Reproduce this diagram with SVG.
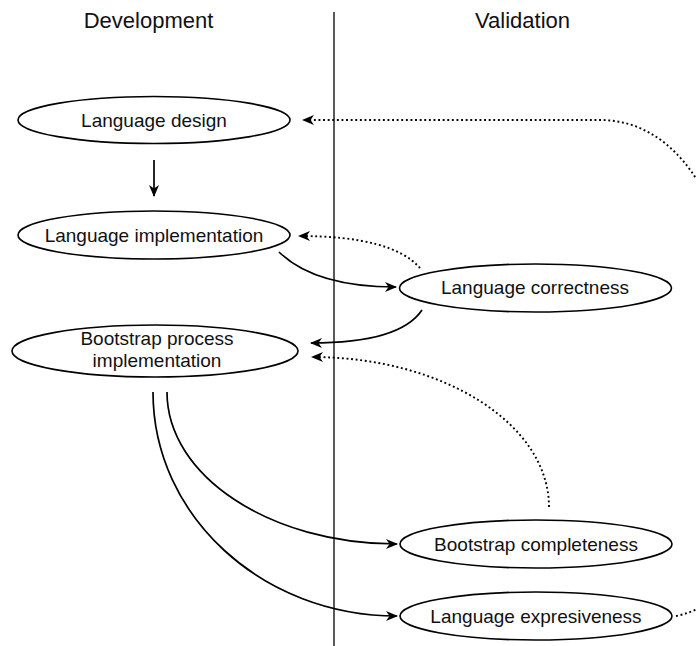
<svg xmlns="http://www.w3.org/2000/svg" width="696" height="646" viewBox="0 0 696 646">
<style>
.node ellipse{fill:#fff;stroke:#000;stroke-width:1.6}
.node text,.title{font-family:"Liberation Sans",Arial,sans-serif;fill:#111;text-anchor:middle}
.node text{font-size:19px}
.title{font-size:22px}
.solid{fill:none;stroke:#000;stroke-width:1.7;marker-end:url(#ah)}
.dot{fill:none;stroke:#000;stroke-width:1.9;stroke-dasharray:1.9 2.7;marker-end:url(#ah)}
</style>
<defs>
<marker id="ah" viewBox="0 0 12 10" refX="11" refY="5" markerWidth="13" markerHeight="10" markerUnits="userSpaceOnUse" orient="auto">
<path d="M0,0 L12,5 L0,10 L3.5,5 Z" fill="#000"/>
</marker>
</defs>
<rect width="696" height="646" fill="#fff"/>
<text class="title" x="148.5" y="28">Development</text>
<text class="title" x="522.5" y="28">Validation</text>
<line x1="334" y1="12" x2="334" y2="646" stroke="#000" stroke-width="1.3"/>
<g id="connectors">
<path class="solid" d="M154,160 L154,196"/>
<path class="solid" d="M279,252 Q315,287 396,287"/>
<path class="solid" d="M422,310 Q400,343 311,343"/>
<path class="dot" d="M420,268 Q392,236 299,236"/>
<path class="dot" d="M549,507 C549,424 443,357 312,357"/>
<path class="solid" d="M167,392 C167,476 270,544 397,544"/>
<path class="solid" d="M153,392 C153,516 262,616 397,616"/>
<path class="dot" d="M676,616 Q705,610 725,590 L770,500 L770,300 L720,230 C695,155 650,120 600,120 L303,120"/>
</g>
<g id="n1" class="node"><ellipse cx="154" cy="120" rx="136" ry="23.5"/><text x="154" y="126.5">Language design</text></g>
<g id="n2" class="node"><ellipse cx="154" cy="235" rx="136" ry="24"/><text x="154" y="241.5">Language implementation</text></g>
<g id="n3" class="node"><ellipse cx="155" cy="351" rx="143" ry="26"/><text x="157" y="345">Bootstrap process</text><text x="157" y="367">implementation</text></g>
<g id="n4" class="node"><ellipse cx="535.5" cy="288" rx="136" ry="24"/><text x="535" y="294">Language correctness</text></g>
<g id="n5" class="node"><ellipse cx="536" cy="544" rx="136" ry="24"/><text x="536" y="550.5">Bootstrap completeness</text></g>
<g id="n6" class="node"><ellipse cx="536" cy="616" rx="136" ry="24"/><text x="536" y="622.5">Language expresiveness</text></g>
</svg>
